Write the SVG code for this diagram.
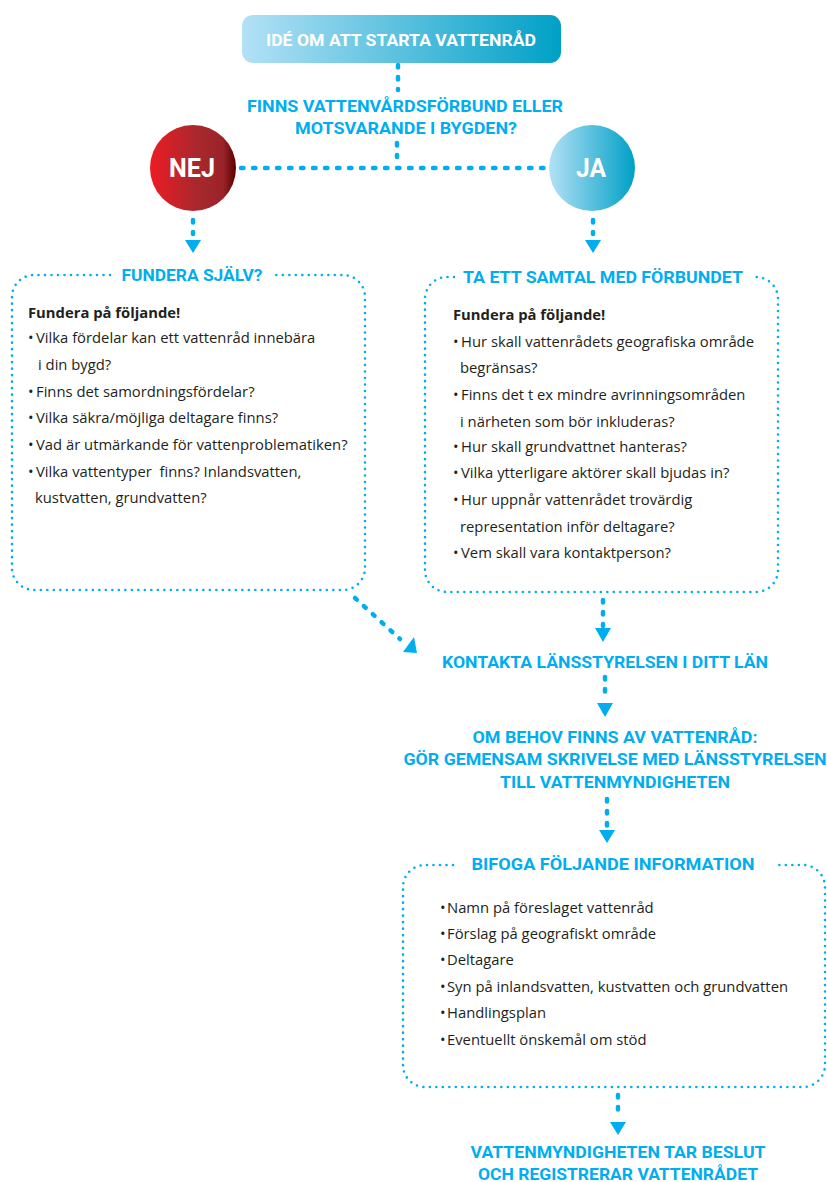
<svg xmlns="http://www.w3.org/2000/svg" width="827" height="1182" viewBox="0 0 827 1182">
<defs>
<linearGradient id="gBlue" x1="0" y1="0" x2="1" y2="0">
<stop offset="0" stop-color="#b3e1f6"/>
<stop offset="1" stop-color="#00a0c6"/>
</linearGradient>
<linearGradient id="gRed" x1="0" y1="0" x2="1" y2="0">
<stop offset="0" stop-color="#ed1c24"/>
<stop offset="0.55" stop-color="#a8282d"/>
<stop offset="0.85" stop-color="#9a2429"/>
<stop offset="1" stop-color="#5a0000"/>
</linearGradient>
<style>
.h{font-family:Roboto,"Liberation Sans",sans-serif;font-weight:700;fill:#00aeef;font-size:17px}
.w{font-family:Roboto,"Liberation Sans",sans-serif;font-weight:700;fill:#ffffff}
.b{font-family:"Open Sans","Noto Sans",sans-serif;font-size:14.8px;fill:#231f20}
.bb{font-weight:700}
.box{fill:none;stroke:#00aeef;stroke-width:2.6;stroke-linecap:round;stroke-dasharray:0 6.5}
.con{fill:none;stroke:#00aeef;stroke-width:4.5;stroke-linecap:round;stroke-dasharray:2.5 9.5}
.hz{fill:none;stroke:#00aeef;stroke-width:4.5;stroke-linecap:round;stroke-dasharray:2.5 9.5}
.ah{fill:#00aeef}
</style>
</defs>
<rect width="827" height="1182" fill="#ffffff"/>

<g id="connectors">
<path class="con" d="M398 65 V90"/>
<path class="con" d="M397 143 V157"/>
<path class="hz" d="M241 168 H546"/>
<path class="con" d="M193 220 V234"/>
<polygon class="ah" points="185,240 201,240 193,253"/>
<path class="con" d="M593 220 V234"/>
<polygon class="ah" points="585,240 601,240 593,253"/>
<path class="con" d="M603 600 V626"/>
<polygon class="ah" points="595,628 611,628 603,642"/>
<path class="con" d="M355 598 L400 639"/>
<polygon class="ah" points="417,653 403,652 414,637"/>
<path class="con" d="M605 677 V700"/>
<polygon class="ah" points="597,703 613,703 605,717"/>
<path class="con" d="M607 799 V826"/>
<polygon class="ah" points="599,830 615,830 607,843"/>
<path class="con" d="M618 1095 V1118"/>
<polygon class="ah" points="610,1122 626,1122 618,1135"/>
</g>

<g id="start">
<rect x="242" y="15" width="319" height="48" rx="11" fill="url(#gBlue)"/>
<text class="w" x="401" y="46" font-size="17" text-anchor="middle" textLength="270" lengthAdjust="spacingAndGlyphs">IDÉ OM ATT STARTA VATTENRÅD</text>
</g>

<g id="question">
<text class="h" x="405" y="112" font-size="18" text-anchor="middle" textLength="316" lengthAdjust="spacingAndGlyphs">FINNS VATTENVÅRDSFÖRBUND ELLER</text>
<text class="h" x="406" y="134" font-size="18" text-anchor="middle" textLength="222" lengthAdjust="spacingAndGlyphs">MOTSVARANDE I BYGDEN?</text>
</g>

<g id="nej">
<circle cx="193" cy="168" r="43" fill="url(#gRed)"/>
<text class="w" x="192" y="177" font-size="25" text-anchor="middle" textLength="46" lengthAdjust="spacingAndGlyphs">NEJ</text>
</g>

<g id="ja">
<circle cx="592" cy="168" r="43" fill="url(#gBlue)"/>
<text class="w" x="591" y="177" font-size="25" text-anchor="middle" textLength="30" lengthAdjust="spacingAndGlyphs">JA</text>
</g>

<g id="fundera-sjalv">
<path class="box" d="M110 275 H34 A22 22 0 0 0 12 297 V568 A22 22 0 0 0 34 590 H343 A22 22 0 0 0 365 568 V297 A22 22 0 0 0 343 275 H270"/>
<text class="h" x="192" y="281" text-anchor="middle" textLength="141" lengthAdjust="spacingAndGlyphs">FUNDERA SJÄLV?</text>
<g class="b">
<text class="bb" x="28" y="318">Fundera på följande!</text>
<text x="28" y="343">•<tspan x="36">Vilka fördelar kan ett vattenråd innebära</tspan></text>
<text x="38" y="370">i din bygd?</text>
<text x="28" y="397">•<tspan x="36">Finns det samordningsfördelar?</tspan></text>
<text x="28" y="423">•<tspan x="36">Vilka säkra/möjliga deltagare finns?</tspan></text>
<text x="28" y="450">•<tspan x="36">Vad är utmärkande för vattenproblematiken?</tspan></text>
<text x="28" y="477" style="white-space:pre">•<tspan x="36">Vilka vattentyper  finns? Inlandsvatten,</tspan></text>
<text x="35" y="503">kustvatten, grundvatten?</text>
</g>
</g>

<g id="samtal">
<path class="box" d="M454 277 H447 A22 22 0 0 0 425 299 V570 A22 22 0 0 0 447 592 H756 A22 22 0 0 0 778 570 V299 A22 22 0 0 0 756 277 H755"/>
<text class="h" x="603" y="283" text-anchor="middle" textLength="280" lengthAdjust="spacingAndGlyphs">TA ETT SAMTAL MED FÖRBUNDET</text>
<g class="b">
<text class="bb" x="453" y="320">Fundera på följande!</text>
<text x="453" y="347">•<tspan x="461">Hur skall vattenrådets geografiska område</tspan></text>
<text x="460" y="373">begränsas?</text>
<text x="453" y="400">•<tspan x="461">Finns det t ex mindre avrinningsområden</tspan></text>
<text x="460" y="427">i närheten som bör inkluderas?</text>
<text x="453" y="452">•<tspan x="461">Hur skall grundvattnet hanteras?</tspan></text>
<text x="453" y="478">•<tspan x="461">Vilka ytterligare aktörer skall bjudas in?</tspan></text>
<text x="453" y="505">•<tspan x="461">Hur uppnår vattenrådet trovärdig</tspan></text>
<text x="460" y="532">representation inför deltagare?</text>
<text x="453" y="558">•<tspan x="461">Vem skall vara kontaktperson?</tspan></text>
</g>
</g>

<g id="kontakta">
<text class="h" x="605" y="668" text-anchor="middle" textLength="326" lengthAdjust="spacingAndGlyphs">KONTAKTA LÄNSSTYRELSEN I DITT LÄN</text>
</g>

<g id="om-behov">
<text class="h" x="615" y="743" text-anchor="middle" textLength="285" lengthAdjust="spacingAndGlyphs">OM BEHOV FINNS AV VATTENRÅD:</text>
<text class="h" x="615" y="765" text-anchor="middle" textLength="423" lengthAdjust="spacingAndGlyphs">GÖR GEMENSAM SKRIVELSE MED LÄNSSTYRELSEN</text>
<text class="h" x="615" y="788" text-anchor="middle" textLength="230" lengthAdjust="spacingAndGlyphs">TILL VATTENMYNDIGHETEN</text>
</g>

<g id="bifoga">
<path class="box" d="M453 865 H425 A22 22 0 0 0 403 887 V1065 A22 22 0 0 0 425 1087 H803 A22 22 0 0 0 825 1065 V887 A22 22 0 0 0 803 865 H775"/>
<text class="h" x="613" y="870" text-anchor="middle" textLength="283" lengthAdjust="spacingAndGlyphs">BIFOGA FÖLJANDE INFORMATION</text>
<g class="b">
<text x="440" y="913">•<tspan x="447">Namn på föreslaget vattenråd</tspan></text>
<text x="440" y="939">•<tspan x="447">Förslag på geografiskt område</tspan></text>
<text x="440" y="965">•<tspan x="447">Deltagare</tspan></text>
<text x="440" y="992">•<tspan x="447">Syn på inlandsvatten, kustvatten och grundvatten</tspan></text>
<text x="440" y="1018">•<tspan x="447">Handlingsplan</tspan></text>
<text x="440" y="1045">•<tspan x="447">Eventuellt önskemål om stöd</tspan></text>
</g>
</g>

<g id="beslut">
<text class="h" x="618" y="1158" text-anchor="middle" textLength="295" lengthAdjust="spacingAndGlyphs">VATTENMYNDIGHETEN TAR BESLUT</text>
<text class="h" x="618" y="1180" text-anchor="middle" textLength="280" lengthAdjust="spacingAndGlyphs">OCH REGISTRERAR VATTENRÅDET</text>
</g>
</svg>
